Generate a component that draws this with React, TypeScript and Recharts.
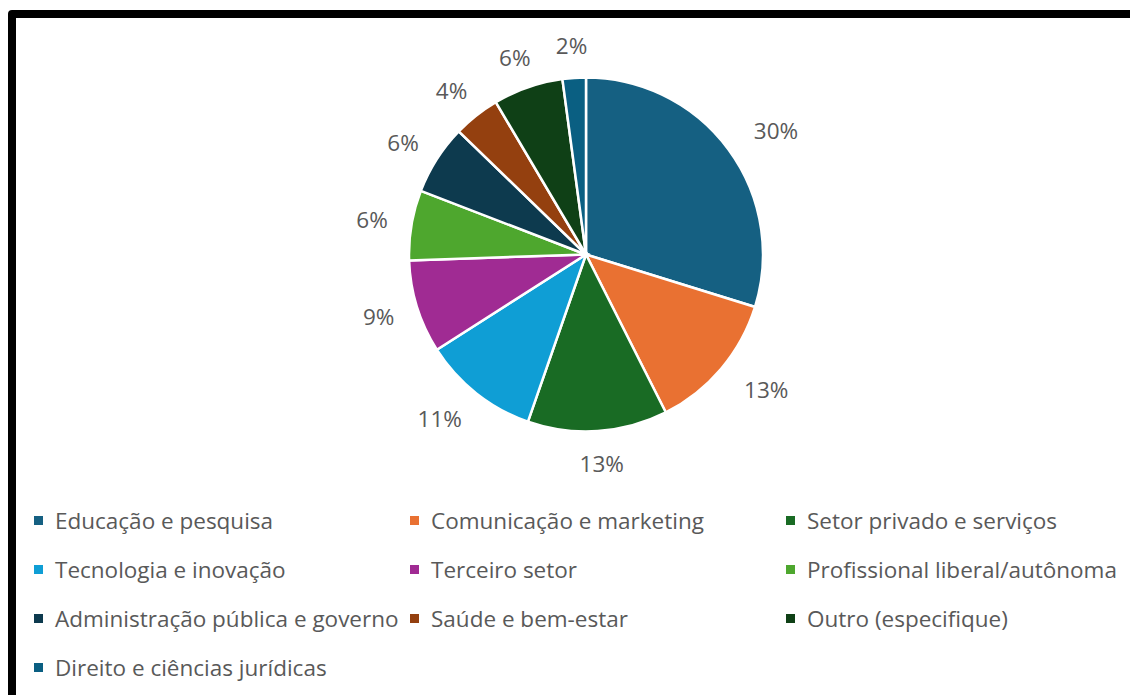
import React from 'react';
import { PieChart, Pie, Cell, Legend } from 'recharts';

// áreas de atuação (respostas, n = 47)
const categories = [
  'Educação e pesquisa',
  'Comunicação e marketing',
  'Setor privado e serviços',
  'Tecnologia e inovação',
  'Terceiro setor',
  'Profissional liberal/autônoma',
  'Administração pública e governo',
  'Saúde e bem-estar',
  'Outro (especifique)',
  'Direito e ciências jurídicas',
];
const counts = [14, 6, 6, 5, 4, 3, 3, 2, 3, 1];
const colors = [
  '#156082', '#E97132', '#196B24', '#0F9ED5', '#A02B93',
  '#4EA72E', '#0D3A4E', '#94400F', '#0F4016', '#0A5F82',
];

const data = categories.map((name, i) => ({ name, value: counts[i] }));

const FONT = '"Open Sans", "Noto Sans", sans-serif';
const GRAY = '#595959';

function renderLabel(props: any) {
  const { cx, cy, midAngle, outerRadius, percent } = props;
  const text = `${Math.round(percent * 100)}%`;
  const rad = (-midAngle * Math.PI) / 180;
  const rx = outerRadius + 40 + (text.length - 2) * 19;
  const ry = outerRadius + 32;
  const x = cx + rx * Math.cos(rad);
  const y = cy + ry * Math.sin(rad);
  return (
    <text
      x={x}
      y={y}
      textAnchor="middle"
      dominantBaseline="central"
      fill={GRAY}
      fontSize={22.5}
      fontFamily={FONT}
    >
      {text}
    </text>
  );
}

// legend keeps the data order (recharts would sort it by name)
function renderLegend() {
  return (
    <div
      style={{
        display: 'grid',
        gridTemplateColumns: '376px 376px 376px',
        gridAutoRows: '49px',
        paddingLeft: 34,
        fontFamily: FONT,
        fontSize: 22.5,
        color: GRAY,
      }}
    >
      {categories.map((name, i) => (
        <div key={name} style={{ display: 'flex', alignItems: 'center', whiteSpace: 'nowrap' }}>
          <span
            style={{
              width: 9,
              height: 9,
              background: colors[i],
              marginRight: 12,
              flexShrink: 0,
            }}
          />
          <span>{name}</span>
        </div>
      ))}
    </div>
  );
}

export default function App() {
  return (
    <div style={{ position: 'fixed', inset: 0, background: '#fff', overflow: 'hidden' }}>
      <div
        style={{
          position: 'absolute',
          left: 8,
          top: 10,
          width: 1400,
          height: 900,
          border: '8px solid #000',
          borderRadius: 4,
          boxSizing: 'border-box',
        }}
      />
      <div style={{ position: 'absolute', left: 0, top: 0 }}>
        <PieChart width={1130} height={695}>
          <Pie
            data={data}
            dataKey="value"
            nameKey="name"
            cx={581}
            cy={249.5}
            outerRadius={177}
            startAngle={90}
            endAngle={-270}
            stroke="#fff"
            strokeWidth={2.5}
            labelLine={false}
            label={renderLabel}
            isAnimationActive={false}
          >
            {data.map((d, i) => (
              <Cell key={d.name} fill={colors[i]} />
            ))}
          </Pie>
          <Legend
            content={renderLegend}
            wrapperStyle={{ position: 'absolute', left: 0, top: 496, width: 1130 }}
          />
        </PieChart>
      </div>
    </div>
  );
}
